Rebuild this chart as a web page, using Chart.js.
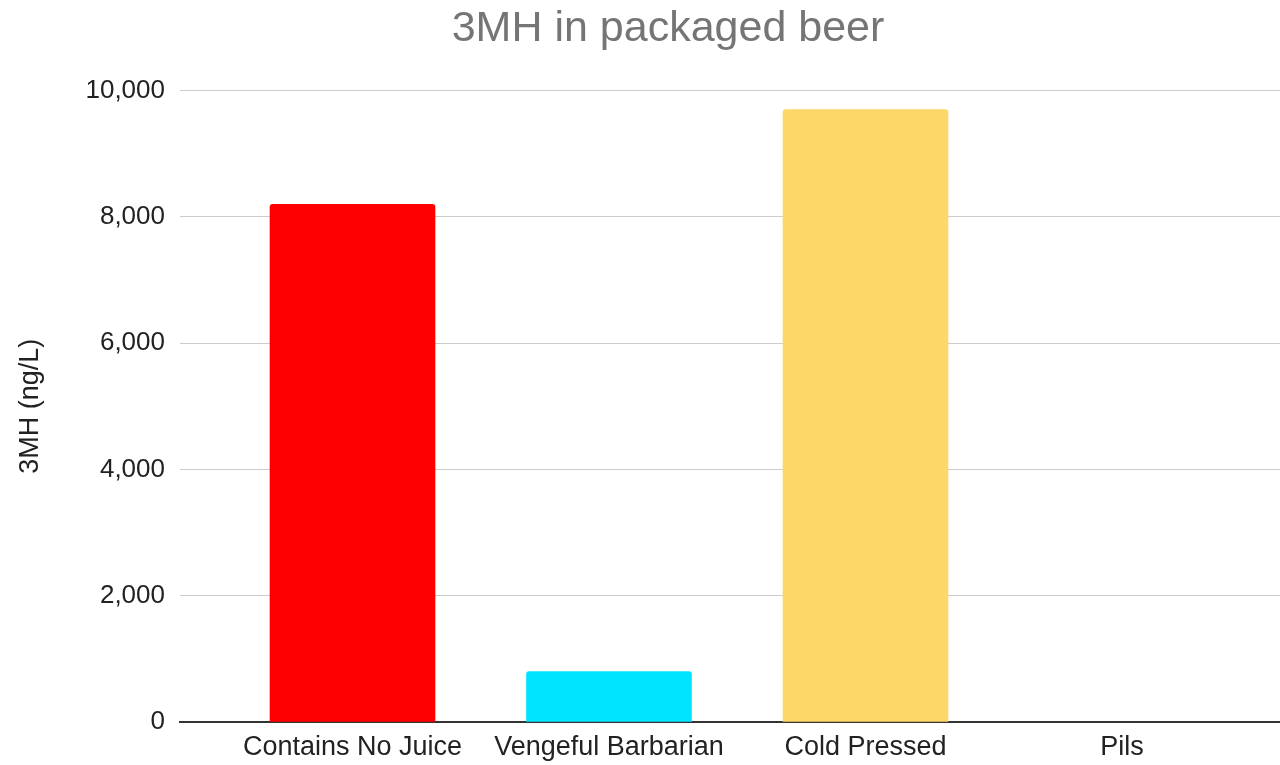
<!DOCTYPE html>
<html>
<head>
<meta charset="utf-8">
<script src="https://cdn.jsdelivr.net/npm/chart.js@4"></script>
<style>
  html, body { margin: 0; padding: 0; background: #fff; }
  #wrap { width: 1280px; height: 765px; }
</style>
</head>
<body>
<div id="wrap"><canvas id="bier"></canvas></div>
<script>
// 3MH in verpakt bier
const categories = ['Contains No Juice', 'Vengeful Barbarian', 'Cold Pressed', 'Pils'];
const values = [8200, 800, 9700, 0];
const barColors = ['#ff0000', '#00e5ff', '#fdd868', 'rgba(0,0,0,0)'];
const yTicks = [0, 2000, 4000, 6000, 8000, 10000];

const font = 'Liberation Sans, Arial, sans-serif';

// x als lineaire schaal zodat de rasterlijnen links verder doorlopen dan de eerste categorie
const data = {
  datasets: [{
    data: values.map((v, i) => ({ x: i, y: v })),
    backgroundColor: barColors,
    barThickness: 165,
    borderRadius: { topLeft: 3, topRight: 3 },
    borderSkipped: 'start'
  }]
};

// titel iets naar rechts, zoals in het origineel
const schuifTitel = {
  id: 'schuifTitel',
  afterLayout(chart) {
    if (chart.titleBlock) {
      chart.titleBlock.left += 28;
      chart.titleBlock.right += 28;
    }
  }
};

const config = {
  type: 'bar',
  data: data,
  plugins: [schuifTitel],
  options: {
    responsive: true,
    maintainAspectRatio: false,
    animation: false,
    layout: { padding: { top: 0, right: 0, bottom: 0, left: 0 } },
    plugins: {
      legend: { display: false },
      tooltip: { enabled: false },
      title: {
        display: true,
        text: '3MH in packaged beer',
        color: '#757575',
        font: { family: font, size: 43, weight: 'normal' },
        padding: { top: 3, bottom: 36 }
      }
    },
    scales: {
      x: {
        type: 'linear',
        offset: false,
        min: -0.6725,
        max: 3.616,
        afterBuildTicks: (scale) => {
          scale.ticks = categories.map((_, i) => ({ value: i }));
        },
        afterFit: (scale) => { scale.height = 43; },
        ticks: {
          callback: (v) => categories[v],
          color: '#222',
          font: { family: font, size: 27 },
          padding: 9,
          maxRotation: 0,
          autoSkip: false
        },
        grid: { display: false, drawTicks: false, offset: false },
        border: { display: true, color: '#333', width: 2 }
      },
      y: {
        min: 0,
        max: 10000,
        afterBuildTicks: (scale) => {
          scale.ticks = yTicks.map(v => ({ value: v }));
        },
        afterFit: (scale) => { scale.width = 180; },
        ticks: {
          color: '#222',
          font: { family: font, size: 26 },
          padding: 15,
          callback: (v) => v.toLocaleString('en-US')
        },
        grid: { color: '#cccccc', lineWidth: 1, drawTicks: false },
        border: { display: false },
        title: {
          display: true,
          text: '3MH (ng/L)',
          color: '#222',
          font: { family: font, size: 27 },
          padding: { top: 14, bottom: 0 }
        }
      }
    }
  }
};

const myChart = new Chart(document.getElementById('bier'), config);
</script>
</body>
</html>
